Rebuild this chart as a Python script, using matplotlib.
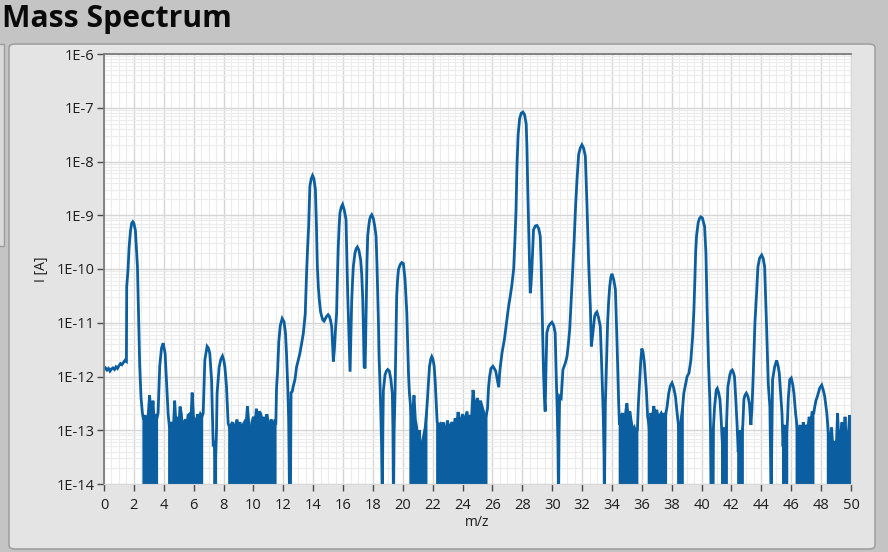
import numpy as np
import matplotlib
matplotlib.use("Agg")
import matplotlib.pyplot as plt
from matplotlib.patches import FancyBboxPatch, Rectangle
from matplotlib.ticker import MultipleLocator, LogLocator, FuncFormatter, NullFormatter

# ---------------- data (m/z, log10 of ion current in A) ----------------
mz_a = [0.0, 0.1, 0.2, 0.3, 0.4, 0.5, 0.6, 0.7, 0.8, 0.9, 1.0, 1.1, 1.2, 1.3, 1.4, 1.5,
        1.52, 1.61, 1.68, 1.77, 1.85, 1.93, 2.0, 2.1, 2.24, 2.33, 2.39, 2.48, 2.57]
li_a = [-11.87, -11.84, -11.88, -11.85, -11.9, -11.86, -11.84, -11.87, -11.82, -11.85, -11.8, -11.76, -11.78, -11.74, -11.7, -11.72,
        -10.33, -10.0, -9.6, -9.3, -9.15, -9.12, -9.15, -9.28, -9.96, -11.07, -11.8, -12.4, -12.68]

mz_b = [2.65, 2.75, 2.85, 2.95, 3.05, 3.12, 3.2, 3.28, 3.36, 3.45, 3.54,
        3.62, 3.73, 3.85, 3.96, 4.09, 4.18, 4.29]
li_b = [-12.8, -12.72, -13.1, -12.75, -12.35, -12.6, -12.75, -12.45, -12.85, -12.7, -12.78,
        -12.68, -11.81, -11.47, -11.38, -11.57, -12.06, -12.68]

mz_c = [4.38, 4.46, 4.55, 4.64, 4.73, 4.82, 4.91, 5.0, 5.09, 5.18, 5.27, 5.36, 5.45,
        5.54, 5.63, 5.72, 5.81, 5.9, 5.99, 6.08, 6.17, 6.26, 6.35, 6.45, 6.55]
li_c = [-12.95, -12.9, -12.85, -13.0, -12.45, -12.9, -12.75, -12.95, -12.56, -12.7, -13.05, -12.85, -12.8,
        -12.9, -12.72, -12.7, -12.85, -12.3, -12.75, -12.8, -13.0, -12.7, -12.8, -12.7, -12.75]

mz_d = [6.64, 6.75, 6.9, 7.0, 7.08, 7.2, 7.31, 7.38, 7.46, 7.53, 7.57, 7.71, 7.82, 7.93, 8.02, 8.09, 8.2, 8.31]
li_d = [-12.68, -11.69, -11.44, -11.48, -11.57, -12.06, -13.3, -13.2, -13.6, -13.0, -12.31, -11.82, -11.68, -11.62, -11.7, -11.82, -12.19, -12.87]

mz_e = [8.4, 8.5, 8.6, 8.7, 8.8, 8.9, 9.0, 9.1, 9.2, 9.3, 9.4, 9.5, 9.6, 9.7, 9.8, 9.9,
        10.0, 10.1, 10.2, 10.3, 10.4, 10.5, 10.6, 10.7, 10.8, 10.9, 11.0, 11.1, 11.2, 11.3, 11.4, 11.5]
li_e = [-12.95, -12.9, -12.85, -13.0, -12.9, -12.8, -12.95, -12.85, -13.05, -12.9, -12.85, -12.95, -12.55, -12.9, -13.3, -12.85,
        -12.75, -12.9, -12.6, -12.85, -12.65, -12.7, -12.9, -12.75, -12.95, -12.7, -12.85, -12.9, -12.8, -12.95, -12.85, -12.9]

mz_f = [11.55, 11.62, 11.7, 11.8, 11.93, 12.05, 12.15, 12.22, 12.3, 12.36, 12.42, 12.48, 12.52, 12.6]
li_f = [-12.2, -11.9, -11.35, -11.05, -10.92, -10.98, -11.2, -11.6, -12.2, -12.8, -14.3, -14.3, -12.3, -12.28]

mz_g = [12.67, 12.78, 12.89, 13.0, 13.11, 13.22, 13.34, 13.47, 13.56, 13.63, 13.7, 13.78, 13.87, 13.96, 14.05, 14.15,
        14.22, 14.28, 14.35, 14.41, 14.5, 14.57, 14.65, 14.73, 14.82, 14.9, 15.0, 15.08, 15.16, 15.24, 15.3, 15.35]
li_g = [-12.18, -12.06, -11.82, -11.7, -11.57, -11.4, -11.2, -10.83, -10.07, -9.6, -9.2, -8.46, -8.32, -8.26, -8.32, -8.52,
        -9.2, -9.95, -10.35, -10.57, -10.8, -10.88, -10.95, -10.97, -10.92, -10.88, -10.85, -10.88, -10.95, -11.07, -11.4, -11.72]

mz_h = [15.42, 15.5, 15.57, 15.62, 15.68, 15.74, 15.79, 15.88, 15.97, 16.08, 16.2, 16.25, 16.31, 16.36, 16.4, 16.47,
        16.52, 16.58, 16.64, 16.69, 16.8, 16.88, 16.96, 17.06, 17.18, 17.25, 17.32, 17.37, 17.41, 17.48, 17.52, 17.56,
        17.6, 17.65, 17.72, 17.78, 17.85, 17.92, 18.02, 18.12, 18.21, 18.27, 18.32, 18.37, 18.41, 18.47, 18.52, 18.58]
li_h = [-11.5, -11.1, -10.82, -10.2, -9.58, -9.2, -8.96, -8.85, -8.8, -8.9, -9.08, -9.7, -10.45, -10.9, -11.32, -11.91,
        -11.3, -10.6, -10.2, -9.95, -9.7, -9.62, -9.59, -9.65, -9.83, -10.1, -10.57, -11.2, -11.82, -11.85, -11.2, -10.57,
        -9.9, -9.39, -9.2, -9.08, -9.02, -8.99, -9.05, -9.2, -9.39, -9.9, -10.45, -11.0, -11.63, -12.1, -12.57, -13.3]

mz_i = [18.63, 18.67, 18.7, 18.76, 18.81, 18.9, 18.99, 19.1, 19.2, 19.3, 19.34, 19.37, 19.42,
        19.48, 19.54, 19.59, 19.65, 19.71, 19.82, 19.93, 20.04, 20.15, 20.27, 20.33, 20.38, 20.44]
li_i = [-14.3, -12.9, -12.26, -12.1, -11.97, -11.9, -11.87, -11.9, -12.05, -12.32, -13.0, -14.3, -13.0,
        -12.32, -11.3, -10.51, -10.2, -10.01, -9.92, -9.88, -9.9, -10.2, -10.82, -11.4, -11.94, -12.3]

mz_j = [20.5, 20.58, 20.66, 20.75, 20.84, 20.93, 21.02, 21.11, 21.2, 21.3, 21.4, 21.5, 21.58,
        21.65, 21.72, 21.79, 21.87, 21.94, 22.02, 22.1, 22.17, 22.23]
li_j = [-12.5, -12.75, -12.7, -12.35, -12.8, -12.95, -13.3, -13.0, -13.5, -13.25, -13.1, -12.95, -12.7,
        -12.43, -12.1, -11.81, -11.68, -11.63, -11.68, -11.81, -12.1, -12.43]

mz_k = [22.3, 22.4, 22.5, 22.6, 22.7, 22.8, 22.9, 23.0, 23.1, 23.2, 23.3, 23.4, 23.5, 23.6, 23.7, 23.8, 23.9,
        24.0, 24.1, 24.2, 24.3, 24.4, 24.5, 24.6, 24.7, 24.8, 24.9, 25.0, 25.1, 25.2, 25.3, 25.4, 25.5, 25.6]
li_k = [-12.85, -12.9, -12.88, -13.05, -12.85, -13.1, -12.95, -12.82, -13.15, -12.9, -12.85, -13.0, -12.78, -12.95, -12.66, -12.9, -12.8,
        -12.7, -12.85, -12.75, -12.65, -12.9, -12.72, -12.8, -12.25, -12.5, -12.55, -12.4, -12.6, -12.45, -12.55, -12.65, -12.8, -12.7]

mz_l = [25.67, 25.74, 25.81, 25.9, 26.03, 26.12, 26.22, 26.32, 26.42, 26.48, 26.53, 26.64, 26.8, 26.97, 27.08,
        27.19, 27.3, 27.42, 27.5, 27.58, 27.64, 27.72, 27.82, 27.93, 28.04, 28.15, 28.26, 28.31, 28.37, 28.42,
        28.48, 28.53, 28.58, 28.64, 28.7, 28.75, 28.87, 28.98, 29.1, 29.2, 29.26, 29.31, 29.37, 29.42, 29.48,
        29.53, 29.58, 29.64, 29.75, 29.87, 29.98, 30.1, 30.2, 30.27, 30.33, 30.38, 30.42, 30.46, 30.5]
li_l = [-12.6, -12.2, -12.0, -11.85, -11.81, -11.85, -11.9, -12.05, -12.2, -11.95, -11.81, -11.56, -11.31, -10.94, -10.7,
        -10.51, -10.3, -10.0, -9.5, -8.9, -8.1, -7.5, -7.2, -7.1, -7.08, -7.13, -7.3, -7.75, -8.6, -9.2,
        -9.9, -10.45, -10.3, -10.0, -9.6, -9.27, -9.2, -9.19, -9.25, -9.39, -9.9, -10.57, -11.3, -11.94, -12.4,
        -12.65, -11.9, -11.19, -11.07, -11.02, -10.99, -11.05, -11.19, -12.0, -12.56, -13.2, -14.3, -13.0, -12.37]

mz_m = [30.6, 30.72, 30.88, 30.99, 31.08, 31.17, 31.32, 31.48, 31.57, 31.66, 31.77, 31.88, 31.99, 32.1, 32.22,
        32.33, 32.44, 32.5, 32.56, 32.62, 32.7, 32.84, 32.92, 32.99, 33.1, 33.22, 33.33, 33.42, 33.47, 33.49,
        33.53, 33.56, 33.64, 33.71, 33.78, 33.85, 33.93, 34.0, 34.12, 34.23, 34.34, 34.4, 34.45]
li_m = [-12.4, -11.87, -11.75, -11.63, -11.4, -11.13, -10.32, -9.39, -8.8, -8.34, -7.87, -7.75, -7.69, -7.75, -7.9,
        -8.83, -9.89, -10.3, -10.76, -11.44, -11.25, -10.88, -10.82, -10.8, -10.9, -11.07, -11.94, -12.75, -13.5, -14.3,
        -13.2, -12.5, -11.7, -11.0, -10.6, -10.32, -10.15, -10.09, -10.2, -10.38, -11.38, -12.0, -12.5]

mz_n = [34.5, 34.6, 34.7, 34.8, 34.9, 35.0, 35.1, 35.2, 35.3, 35.4, 35.5, 35.6, 35.7,
        35.77, 35.85, 35.93, 36.0, 36.08, 36.17, 36.3, 36.39]
li_n = [-12.9, -12.75, -12.68, -12.95, -12.7, -12.5, -12.8, -12.65, -12.85, -13.0, -12.95, -13.05, -13.0,
        -12.5, -12.1, -11.7, -11.48, -11.55, -11.75, -12.25, -12.75]

mz_o = [36.45, 36.52, 36.6, 36.7, 36.8, 36.9, 37.0, 37.1, 37.2, 37.3, 37.4, 37.5, 37.6]
li_o = [-12.85, -13.05, -12.68, -12.8, -12.55, -12.75, -12.62, -12.8, -12.72, -12.68, -12.75, -12.7, -12.7]

mz_p = [37.69, 37.8, 37.9, 38.02, 38.12, 38.25, 38.36, 38.45, 38.55, 38.65, 38.72, 38.81, 38.92, 39.03, 39.15,
        39.28, 39.4, 39.48, 39.55, 39.6, 39.66, 39.77, 39.86, 39.95, 40.05, 40.2, 40.29, 40.37, 40.46, 40.55,
        40.6, 40.65, 40.72, 40.78]
li_p = [-12.56, -12.31, -12.18, -12.12, -12.2, -12.37, -12.68, -12.9, -13.1, -12.75, -12.6, -12.31, -12.15, -12.0, -11.94,
        -11.7, -11.25, -10.8, -10.2, -9.7, -9.39, -9.14, -9.06, -9.03, -9.05, -9.21, -9.7, -10.76, -11.75, -12.43,
        -13.06, -14.3, -14.3, -13.0]

mz_q = [40.87, 40.98, 41.05, 41.14, 41.23, 41.3, 41.38, 41.45, 41.52, 41.6, 41.68, 41.76, 41.89, 41.97, 42.05,
        42.12, 42.2, 42.29, 42.38, 42.45, 42.52, 42.6, 42.68, 42.76, 42.83, 42.9, 42.99, 43.1, 43.2, 43.3,
        43.37, 43.46, 43.57, 43.68, 43.77, 43.88, 44.02, 44.12, 44.22, 44.35, 44.46, 44.57, 44.62, 44.66, 44.7]
li_q = [-12.56, -12.25, -12.22, -12.3, -12.43, -12.75, -13.2, -13.5, -12.95, -13.3, -12.8, -12.19, -11.97, -11.9, -11.88,
        -11.92, -12.0, -12.43, -12.93, -13.4, -13.0, -13.6, -13.1, -12.9, -12.43, -12.35, -12.31, -12.37, -12.5, -12.9,
        -12.6, -11.94, -11.0, -10.45, -9.96, -9.8, -9.74, -9.8, -9.96, -11.08, -12.13, -12.56, -13.5, -14.3, -13.2]

mz_r = [44.75, 44.89, 45.02, 45.12, 45.2, 45.29, 45.38, 45.45, 45.52, 45.6, 45.68, 45.75, 45.8, 45.9, 46.0,
        46.1, 46.18, 46.29]
li_r = [-12.06, -11.82, -11.7, -11.8, -11.94, -12.31, -12.68, -13.3, -12.9, -13.5, -13.1, -12.8, -12.43, -12.06, -12.03,
        -12.15, -12.31, -12.68]

mz_s = [46.4, 46.5, 46.6, 46.7, 46.8, 46.9, 47.0, 47.1, 47.2, 47.3, 47.4, 47.5,
        47.55, 47.65, 47.75, 47.9, 48.04, 48.14, 48.24, 48.32, 48.38]
li_s = [-12.95, -13.2, -12.9, -13.3, -12.85, -13.1, -12.9, -13.0, -12.75, -12.9, -12.65, -12.7,
        -12.6, -12.45, -12.37, -12.22, -12.16, -12.25, -12.37, -12.55, -12.68]

mz_t = [48.5, 48.6, 48.7, 48.8, 48.9, 49.0, 49.1, 49.2, 49.3, 49.4, 49.5, 49.6, 49.7, 49.8, 49.9, 50.0]
li_t = [-13.1, -13.3, -12.95, -13.4, -13.2, -13.45, -12.68, -13.3, -13.1, -12.85, -13.4, -12.75, -13.3, -13.2, -12.72, -13.3]

# m/z ranges where the signal sits in the noise floor (drawn filled down to the axis)
noise_lo = [2.57, 4.29, 7.31, 8.31, 20.44, 22.23, 34.45, 36.39, 38.36, 40.55, 41.30, 42.38, 44.57, 45.38, 46.29, 48.38]
noise_hi = [3.62, 6.64, 7.57, 11.55, 21.65, 25.67, 35.77, 37.69, 38.81, 40.87, 41.76, 42.83, 44.75, 45.80, 47.55, 50.00]

x_ticks = [0, 2, 4, 6, 8, 10, 12, 14, 16, 18, 20, 22, 24, 26, 28, 30, 32, 34, 36, 38, 40, 42, 44, 46, 48, 50]
y_decades = [-14, -13, -12, -11, -10, -9, -8, -7, -6]

mz_parts = [mz_a, mz_b, mz_c, mz_d, mz_e, mz_f, mz_g, mz_h, mz_i, mz_j, mz_k, mz_l, mz_m, mz_n, mz_o, mz_p, mz_q, mz_r, mz_s, mz_t]
li_parts = [li_a, li_b, li_c, li_d, li_e, li_f, li_g, li_h, li_i, li_j, li_k, li_l, li_m, li_n, li_o, li_p, li_q, li_r, li_s, li_t]
for a, b in zip(mz_parts, li_parts):
    assert len(a) == len(b), (a[0], len(a), len(b))
mz = np.concatenate([np.asarray(p, float) for p in mz_parts])
current = 10.0 ** np.concatenate([np.asarray(p, float) for p in li_parts])

# ---------------- figure ----------------
W, H = 888, 552
fig = plt.figure(figsize=(W / 100, H / 100), dpi=100)
fig.patch.set_facecolor("#c4c4c4")

def fx(px):
    return px / W

def fy(py):
    return 1 - py / H

# left partial panel edge
fig.patches.append(Rectangle((fx(-4), fy(246)), fx(8), fy(44) - fy(246), transform=fig.transFigure,
                             facecolor="#dadada", edgecolor="#9c9c9c", lw=1.0, zorder=-2))
# main panel
fig.patches.append(FancyBboxPatch((fx(9), fy(549)), fx(875) - fx(9), fy(44) - fy(549),
                                  boxstyle="round,pad=0,rounding_size=0.007", transform=fig.transFigure,
                                  facecolor="#e4e4e4", edgecolor="#a0a0a0", lw=1.2, zorder=-2))

fig.text(fx(2), fy(27.5), "Mass Spectrum", fontsize=21.7, fontweight="bold",
         family=["Open Sans", "DejaVu Sans"], color="#0a0a0a", ha="left", va="baseline")

ax = fig.add_axes([fx(104), fy(484), fx(851) - fx(104), fy(54) - fy(484)])
ax.set_zorder(3)
ax.set_facecolor("white")
ax.set_yscale("log")
ax.set_xlim(0, 50)
ax.set_ylim(10.0 ** y_decades[0], 10.0 ** y_decades[-1])

ax.xaxis.set_major_locator(plt.FixedLocator(x_ticks))
ax.xaxis.set_minor_locator(MultipleLocator(0.5))
ax.yaxis.set_major_locator(plt.FixedLocator([10.0 ** d for d in y_decades]))
ax.yaxis.set_minor_locator(LogLocator(base=10, subs=np.arange(2, 10), numticks=50))
ax.yaxis.set_minor_formatter(NullFormatter())
ax.yaxis.set_major_formatter(FuncFormatter(lambda v, p: "1E%d" % int(round(np.log10(v)))))
ax.xaxis.set_major_formatter(FuncFormatter(lambda v, p: "%d" % int(round(v))))

ax.grid(which="major", color="#d6d6d6", lw=1.0)
ax.grid(which="minor", color="#ececec", lw=0.8)
ax.set_axisbelow(True)

ax.tick_params(which="major", direction="out", length=5, width=1.0, color="#4a4a4a",
               labelsize=10.5, labelcolor="#1e1e1e")
ax.tick_params(axis="x", which="major", pad=5)
ax.tick_params(axis="y", which="major", pad=2)
ax.tick_params(which="minor", length=0)
for lab in ax.get_xticklabels() + ax.get_yticklabels():
    lab.set_family(["Open Sans", "DejaVu Sans"])

for side in ("left", "top"):
    ax.spines[side].set_color("#7c7c7c")
    ax.spines[side].set_linewidth(1.3)
for side in ("right", "bottom"):
    ax.spines[side].set_color("#d8d8d8")
    ax.spines[side].set_linewidth(0.8)

line_color = "#0b5fa0"
mask = np.zeros_like(mz, dtype=bool)
for lo, hi in zip(noise_lo, noise_hi):
    mask |= (mz >= lo) & (mz <= hi)
ax.fill_between(mz, 1e-15, current, where=mask, color=line_color, lw=0, interpolate=False)
ax.plot(mz, current, color=line_color, lw=2.0, solid_joinstyle="miter")

fig.text(fx(477.5), fy(523), "m/z", fontsize=10, family=["Open Sans", "DejaVu Sans"],
         color="#1e1e1e", ha="center", va="center")
fig.text(fx(41), fy(269), "I [A]", fontsize=10, family=["Open Sans", "DejaVu Sans"],
         color="#1e1e1e", ha="center", va="center", rotation=90)

fig.savefig("out.png", dpi=100, facecolor=fig.get_facecolor())
